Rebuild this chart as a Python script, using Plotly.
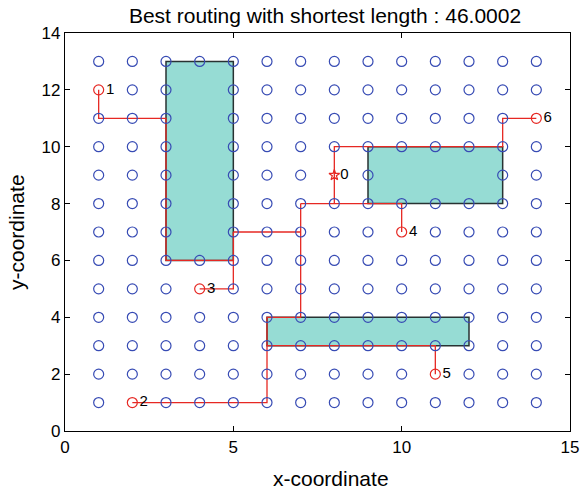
import plotly.graph_objects as go

# grid
grid_x = list(range(1, 15))
grid_y = list(range(1, 14))

# obstacles: (x0, x1, y0, y1)
obstacles = [(3, 5, 6, 13), (9, 13, 8, 10), (6, 12, 3, 4)]

# terminals
term_x = [8, 1, 2, 4, 10, 11, 14]
term_y = [9, 12, 1, 5, 7, 2, 11]
term_lab = ["0", "1", "2", "3", "4", "5", "6"]

# routing polylines
routes = [
    [(1, 12), (1, 11), (3, 11), (3, 6), (5, 6)],
    [(5, 7), (5, 5), (4, 5)],
    [(5, 7), (7, 7)],
    [(7, 8), (7, 4), (6, 4), (6, 1), (2, 1)],
    [(6, 3), (11, 3), (11, 2)],
    [(7, 8), (10, 8), (10, 7)],
    [(8, 8), (8, 10), (13, 10), (13, 11), (14, 11)],
]

x_ticks = [0, 5, 10, 15]
y_ticks = [0, 2, 4, 6, 8, 10, 12, 14]

BLUE = "rgb(55,75,180)"
RED = "rgb(230,40,35)"
FILL = "rgb(150,220,212)"

W, H = 587, 493

fig = go.Figure()

for (x0, x1, y0, y1) in obstacles:
    fig.add_shape(type="rect", x0=x0, x1=x1, y0=y0, y1=y1,
                  fillcolor=FILL, line=dict(color="rgb(40,50,50)", width=1.5),
                  layer="below")

def interior(x, y):
    return any(x0 < x < x1 and y0 < y < y1 for (x0, x1, y0, y1) in obstacles)

terms = set(zip(term_x, term_y))
gx, gy = [], []
for x in grid_x:
    for y in grid_y:
        if interior(x, y) or (x, y) in terms:
            continue
        gx.append(x)
        gy.append(y)

rx, ry = [], []
for r in routes:
    for (x, y) in r:
        rx.append(x)
        ry.append(y)
    rx.append(None)
    ry.append(None)
fig.add_trace(go.Scatter(x=rx, y=ry, mode="lines",
                         line=dict(color=RED, width=1.3), hoverinfo="skip"))

fig.add_trace(go.Scatter(x=gx, y=gy, mode="markers",
                         marker=dict(symbol="circle-open", size=10,
                                     line=dict(color=BLUE, width=1.2), color=BLUE)))

fig.add_trace(go.Scatter(x=term_x[:1], y=term_y[:1], mode="markers+text",
                         text=term_lab[:1], textposition="middle right",
                         textfont=dict(size=15, color="black"),
                         marker=dict(symbol="star-open", size=8, color=RED,
                                     line=dict(color=RED, width=1.2))))
fig.add_trace(go.Scatter(x=term_x[1:], y=term_y[1:], mode="markers+text",
                         text=term_lab[1:], textposition="middle right",
                         textfont=dict(size=15, color="black"),
                         marker=dict(symbol="circle-open", size=10, color=RED,
                                     line=dict(color=RED, width=1.2))))

axis_common = dict(showgrid=False, zeroline=False, showline=True, linecolor="black",
                   linewidth=1.3, mirror="ticks", ticks="inside", ticklen=5,
                   tickcolor="black", tickfont=dict(size=17, color="black"),
                   automargin=False)

fig.update_layout(
    width=W, height=H,
    margin=dict(l=65, r=17, t=33, b=62),
    plot_bgcolor="white", paper_bgcolor="white",
    showlegend=False,
    font=dict(family="Liberation Sans, Arial, sans-serif", color="black"),
    title=dict(text="Best routing with shortest length : 46.0002",
               xref="container", x=325 / W, xanchor="center",
               yref="container", y=1 - 16 / H, yanchor="middle",
               font=dict(size=21, color="black")),
    xaxis=dict(range=[0, 15], tickvals=x_ticks, **axis_common),
    yaxis=dict(range=[0, 14], tickvals=y_ticks, **axis_common),
    annotations=[
        dict(text="x-coordinate", xref="paper", yref="paper",
             x=(331 - 65) / 505, y=0, yshift=-47, xanchor="center", yanchor="middle",
             showarrow=False, font=dict(size=21, color="black")),
        dict(text="y-coordinate", xref="paper", yref="paper",
             x=0, xshift=-49, y=0.5, xanchor="center", yanchor="middle",
             textangle=-90, showarrow=False, font=dict(size=21, color="black")),
    ],
)

fig.write_html("out.html", config={"displayModeBar": False},
               post_script="document.body.style.margin='0';document.body.style.padding='0';")
